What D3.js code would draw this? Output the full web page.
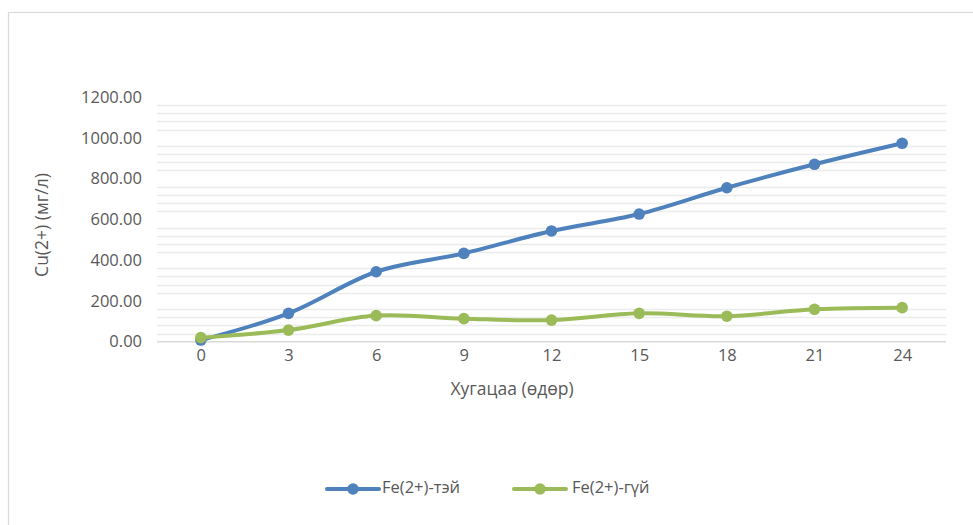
<!DOCTYPE html>
<html>
<head>
<meta charset="utf-8">
<script src="https://cdn.jsdelivr.net/npm/d3@7"></script>
<style>
  html, body { margin: 0; padding: 0; background: #fff; }
  svg { display: block; }
  text { font-family: "Open Sans", "Noto Sans", sans-serif; fill: #595959; }
</style>
</head>
<body>
<script>
// Days of measurement
const days = ["0", "3", "6", "9", "12", "15", "18", "21", "24"];
// Cu(2+) concentration, mg/l
const withFe = [8, 139, 343, 433, 543, 626, 755, 870, 973];
const withoutFe = [20, 57, 128, 113, 106, 139, 125, 159, 167];
const yTicks = [0, 200, 400, 600, 800, 1000, 1200];
const minorStep = 40;

const seriesNames = ["Fe(2+)-тэй", "Fe(2+)-гүй"];
const seriesColors = ["#4f81bd", "#9bbb59"];
const seriesData = [withFe, withoutFe];

const W = 973, H = 525;
const svg = d3.select("body").append("svg").attr("width", W).attr("height", H);

// chart frame
svg.append("rect")
  .attr("x", 8.5).attr("y", 12.5)
  .attr("width", W + 20).attr("height", H + 20)
  .attr("fill", "#fff").attr("stroke", "#d9d9d9").attr("stroke-width", 1.2);

const plot = { left: 157, right: 946, top: 97, bottom: 341.7 };

const x = d3.scalePoint().domain(days).range([plot.left, plot.right]).padding(0.5);
const y = d3.scaleLinear().domain([0, 1200]).range([plot.bottom, plot.top]);

// minor gridlines (every 40, skipping the labelled values)
const minorVals = d3.range(minorStep, 1200, minorStep).filter(v => v % 200 !== 0);
svg.append("g").selectAll("line").data(minorVals).join("line")
  .attr("x1", plot.left).attr("x2", plot.right)
  .attr("y1", d => Math.round(y(d)) + 0.5).attr("y2", d => Math.round(y(d)) + 0.5)
  .attr("stroke", "#ebebeb").attr("stroke-width", 1.3);

const labelFont = 16.5;

// y axis labels
const yAxis = d3.axisLeft(y).tickValues(yTicks).tickFormat(d3.format(".2f")).tickSize(0).tickPadding(0);
const gy = svg.append("g").attr("transform", `translate(142,0)`).call(yAxis);
gy.select(".domain").remove();
gy.selectAll("text").attr("font-size", labelFont).style("fill", "#595959")
  .style("font-family", "'Open Sans', sans-serif");

// x axis
const xAxis = d3.axisBottom(x).tickSize(0).tickPadding(8);
const gx = svg.append("g").attr("transform", `translate(0,${plot.bottom})`).call(xAxis);
gx.select(".domain").attr("stroke", "#d9d9d9").attr("stroke-width", 1.5)
  .attr("d", `M${plot.left},0H${plot.right}`);
gx.selectAll("text").attr("font-size", labelFont).style("fill", "#595959")
  .style("font-family", "'Open Sans', sans-serif");

// axis titles
svg.append("text")
  .attr("x", 512).attr("y", 390)
  .attr("text-anchor", "middle").attr("dominant-baseline", "middle")
  .attr("font-size", 17.5).text("Хугацаа (өдөр)");

svg.append("text")
  .attr("transform", "translate(43,225) rotate(-90)")
  .attr("text-anchor", "middle").attr("dominant-baseline", "middle")
  .attr("font-size", 17.5).text("Cu(2+) (мг/л)");

// series lines and markers
const line = d3.line()
  .x((d, i) => x(days[i]))
  .y(d => y(d))
  .curve(d3.curveCatmullRom.alpha(0));

seriesData.forEach((vals, k) => {
  const g = svg.append("g");
  g.append("path").datum(vals)
    .attr("d", line)
    .attr("fill", "none")
    .attr("stroke", seriesColors[k])
    .attr("stroke-width", 4)
    .attr("stroke-linecap", "round");
  g.selectAll("circle").data(vals).join("circle")
    .attr("cx", (d, i) => x(days[i]))
    .attr("cy", d => y(d))
    .attr("r", 5.8)
    .attr("fill", seriesColors[k]);
});

// legend
const legendItems = [
  { x: 327, textX: 382 },
  { x: 514, textX: 572 }
];
const ly = 489;
legendItems.forEach((it, k) => {
  const g = svg.append("g");
  g.append("line")
    .attr("x1", it.x).attr("x2", it.x + 52)
    .attr("y1", ly).attr("y2", ly)
    .attr("stroke", seriesColors[k]).attr("stroke-width", 4)
    .attr("stroke-linecap", "round");
  g.append("circle").attr("cx", it.x + 26).attr("cy", ly).attr("r", 5.8)
    .attr("fill", seriesColors[k]);
  g.append("text").attr("x", it.textX).attr("y", ly)
    .attr("dominant-baseline", "middle").attr("font-size", labelFont)
    .text(seriesNames[k]);
});
</script>
</body>
</html>
